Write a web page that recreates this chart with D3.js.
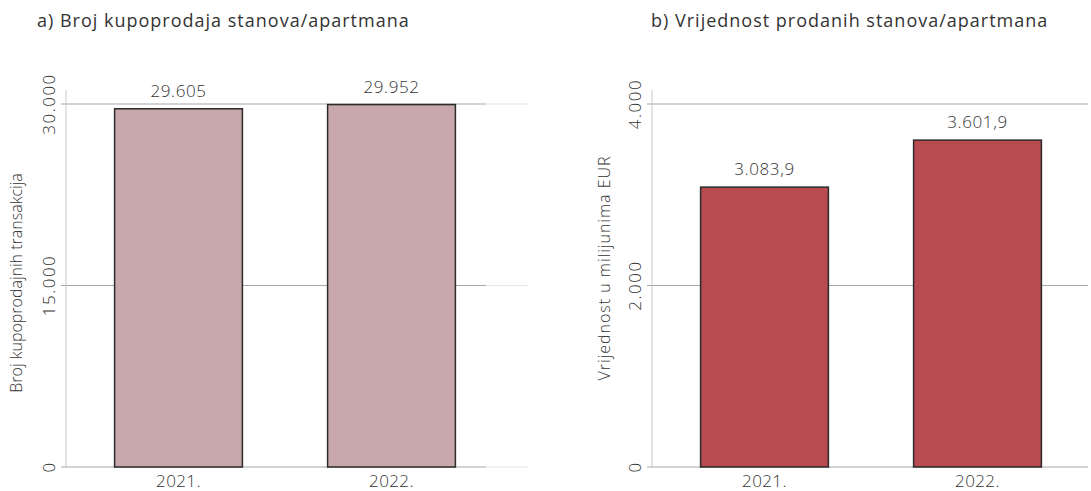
<!DOCTYPE html>
<html>
<head>
    <meta charset="utf-8">
    <style>
        body { margin: 0; background: #fff; }
        text { font-family: "Open Sans", "Lato", sans-serif; fill: #333; }
    </style>
</head>
<body>
<script src="https://d3js.org/d3.v7.min.js"></script>
<script>
    // data
    var years = ['2021.', '2022.'];
    var countValues = [29605, 29952];
    var countLabels = ['29.605', '29.952'];
    var countTicks = [0, 15000, 30000];
    var countTickLabels = ['0', '15.000', '30.000'];
    var valueValues = [3083.9, 3601.9];
    var valueLabels = ['3.083,9', '3.601,9'];
    var valueTicks = [0, 2000, 4000];
    var valueTickLabels = ['0', '2.000', '4.000'];

    var svg = d3.select('body').append('svg')
        .attr('width', 1091)
        .attr('height', 491);

    function panel(opts) {
        var g = svg.append('g');
        var x = d3.scaleBand().domain(years)
            .range([opts.x0, opts.x0 + 426])
            .paddingInner(0.4).paddingOuter(0.2);
        var y = d3.scaleLinear().domain([0, opts.max]).range([467, 104]);

        // title
        g.append('text')
            .attr('x', opts.titleX).attr('y', 27)
            .style('font-size', '18px')
            .style('letter-spacing', '1px')
            .style('font-weight', 400)
            .text(opts.title);

        // gridlines
        g.selectAll('.grid').data(opts.ticks).enter().append('line')
            .attr('x1', opts.axisX - 5).attr('x2', opts.gridEnd)
            .attr('y1', function (d) { return y(d); })
            .attr('y2', function (d) { return y(d); })
            .style('stroke', '#a3a8aa').style('stroke-width', 1.2);
        if (opts.fadeEnd) {
            g.selectAll('.fade').data(opts.ticks).enter().append('line')
                .attr('x1', opts.gridEnd).attr('x2', opts.fadeEnd)
                .attr('y1', function (d) { return y(d); })
                .attr('y2', function (d) { return y(d); })
                .style('stroke', '#dfeae7').style('stroke-width', 1.2);
        }

        // axis line
        g.append('line')
            .attr('x1', opts.axisX).attr('x2', opts.axisX)
            .attr('y1', 90).attr('y2', 467)
            .style('stroke', '#c4c8ca').style('stroke-width', 1);

        // tick labels, rotated
        g.selectAll('.tick').data(opts.ticks).enter().append('text')
            .attr('transform', function (d) { return 'translate(' + (opts.axisX - 11) + ',' + y(d) + ') rotate(-90)'; })
            .attr('text-anchor', 'middle')
            .style('font-size', '17px')
            .style('letter-spacing', '1.5px')
            .style('font-weight', 300)
            .text(function (d, i) { return opts.tickLabels[i]; });

        // y title
        g.append('text')
            .attr('transform', 'translate(' + opts.yTitleX + ',' + opts.yTitleY + ') rotate(-90)')
            .attr('text-anchor', 'middle')
            .style('font-size', '16px')
            .style('letter-spacing', opts.yTitleSpacing)
            .style('font-weight', 300)
            .text(opts.yTitle);

        // bars
        g.selectAll('.bar').data(opts.values).enter().append('rect')
            .attr('x', function (d, i) { return x(years[i]); })
            .attr('width', x.bandwidth())
            .attr('y', function (d) { return y(d); })
            .attr('height', function (d) { return 467 - y(d); })
            .style('fill', opts.color)
            .style('stroke', '#2b2b2b').style('stroke-width', 1.5);

        // value labels
        g.selectAll('.val').data(opts.values).enter().append('text')
            .attr('x', function (d, i) { return x(years[i]) + x.bandwidth() / 2; })
            .attr('y', function (d) { return y(d) - 12; })
            .attr('text-anchor', 'middle')
            .style('font-size', '17px')
            .style('letter-spacing', '0.6px')
            .style('font-weight', 300)
            .text(function (d, i) { return opts.labels[i]; });

        // x labels
        g.selectAll('.xl').data(years).enter().append('text')
            .attr('x', function (d) { return x(d) + x.bandwidth() / 2; })
            .attr('y', 487)
            .attr('text-anchor', 'middle')
            .style('font-size', '17px')
            .style('letter-spacing', '0.4px')
            .style('font-weight', 300)
            .text(function (d) { return d; });
    }

    panel({
        x0: 72, axisX: 66, gridEnd: 486, fadeEnd: 528, max: 30000,
        ticks: countTicks, tickLabels: countTickLabels,
        values: countValues, labels: countLabels, color: '#c8a8ab',
        title: 'a) Broj kupoprodaja stanova/apartmana', titleX: 37,
        yTitle: 'Broj kupoprodajnih transakcija', yTitleX: 22, yTitleY: 283, yTitleSpacing: '0px'
    });

    panel({
        x0: 658, axisX: 652, gridEnd: 1088, max: 4000,
        ticks: valueTicks, tickLabels: valueTickLabels,
        values: valueValues, labels: valueLabels, color: '#b94a50',
        title: 'b) Vrijednost prodanih stanova/apartmana', titleX: 651,
        yTitle: 'Vrijednost u milijunima EUR', yTitleX: 610, yTitleY: 268, yTitleSpacing: '1px'
    });
</script>
</body>
</html>
